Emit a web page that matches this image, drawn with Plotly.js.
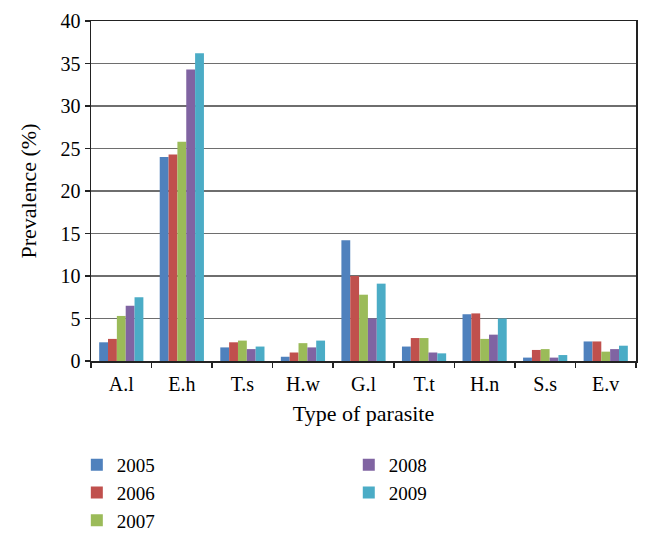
<!DOCTYPE html>
<html>
<head>
<meta charset="utf-8">
<script src="https://cdn.plot.ly/plotly-3.0.1.min.js"></script>
<style>html,body{margin:0;padding:0;background:#fff;}#chart{width:650px;height:543px;}</style>
</head>
<body>
<div id="chart"></div>
<script>
var categories = ["A.l", "E.h", "T.s", "H.w", "G.l", "T.t", "H.n", "S.s", "E.v"];
var years = ["2005", "2006", "2007", "2008", "2009"];
var v2005 = [2.2, 24.0, 1.6, 0.5, 14.2, 1.7, 5.5, 0.4, 2.3];
var v2006 = [2.6, 24.3, 2.2, 1.0, 10.0, 2.7, 5.6, 1.3, 2.3];
var v2007 = [5.3, 25.8, 2.4, 2.1, 7.8, 2.7, 2.6, 1.4, 1.1];
var v2008 = [6.5, 34.3, 1.4, 1.6, 5.0, 1.0, 3.1, 0.4, 1.4];
var v2009 = [7.5, 36.2, 1.7, 2.4, 9.1, 0.9, 5.0, 0.7, 1.8];
var yTicks = [0, 5, 10, 15, 20, 25, 30, 35, 40];

var seriesValues = [v2005, v2006, v2007, v2008, v2009];
var colors = ["#4F81BD", "#C0504D", "#9BBB59", "#8064A2", "#4BACC6"];
var legendIds = ["legend", "legend", "legend", "legend2", "legend2"];

var font = "Liberation Serif, Times New Roman, serif";
var traces = years.map(function (yr, i) {
  return {
    type: "bar",
    name: yr,
    x: categories,
    y: seriesValues[i],
    marker: {color: colors[i], line: {width: 0}},
    legend: legendIds[i]
  };
});

var legendFont = {family: font, size: 19, color: "#000"};
var layout = {
  width: 650, height: 543,
  margin: {l: 91, r: 14, t: 21, b: 182, autoexpand: false},
  paper_bgcolor: "#fff", plot_bgcolor: "#fff",
  font: {family: font, color: "#000", size: 20},
  barmode: "group", bargap: 0.27, bargroupgap: 0,
  showlegend: true,
  legend: {
    orientation: "v", x: -0.026, y: -0.25, xanchor: "left", yanchor: "top",
    font: legendFont, traceorder: "normal", bgcolor: "rgba(0,0,0,0)"
  },
  legend2: {
    orientation: "v", x: 0.473, y: -0.25, xanchor: "left", yanchor: "top",
    font: legendFont, traceorder: "normal", bgcolor: "rgba(0,0,0,0)"
  },
  xaxis: {
    type: "category",
    showline: true, linecolor: "#222", linewidth: 1.5, mirror: true,
    ticks: "outside", tickson: "boundaries", ticklen: 5, tickcolor: "#222", tickwidth: 1.5,
    tickfont: {family: font, size: 20, color: "#000"},
    ticklabelstandoff: 4,
    showgrid: false,
    title: {text: "Type of parasite", font: {family: font, size: 22, color: "#000"}, standoff: 12}
  },
  yaxis: {
    range: [0, 40], tickvals: yTicks, ticktext: yTicks.map(String),
    showline: true, linecolor: "#222", linewidth: 1.5, mirror: true,
    ticks: "outside", ticklen: 5, tickcolor: "#222", tickwidth: 1.5,
    tickfont: {family: font, size: 20, color: "#000"},
    showgrid: true, gridcolor: "#6e6e6e", gridwidth: 1.3,
    zeroline: false,
    title: {text: "Prevalence (%)", font: {family: font, size: 22, color: "#000"}, standoff: 18}
  }
};

Plotly.newPlot("chart", traces, layout, {displayModeBar: false, staticPlot: true});
</script>
</body>
</html>
